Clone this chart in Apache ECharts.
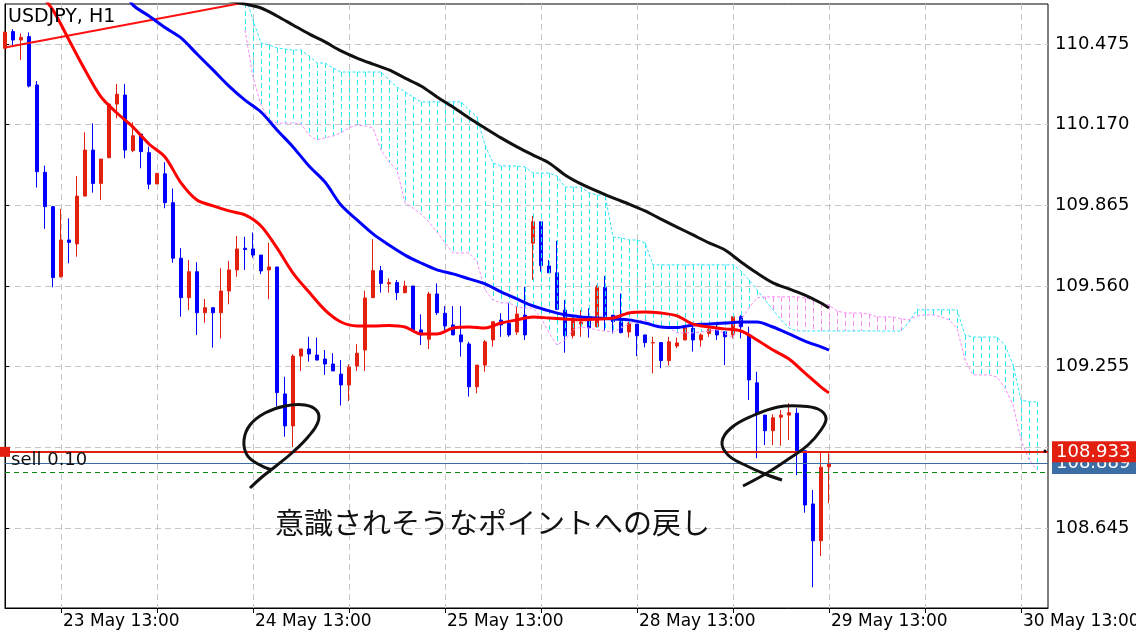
<!DOCTYPE html>
<html><head><meta charset="utf-8">
<script src="https://cdn.jsdelivr.net/npm/echarts@6/dist/echarts.min.js"></script>
<style>html,body{margin:0;padding:0;background:#fff}#c{width:1136px;height:640px}</style>
</head><body><div id="c"></div>
<script>
// ---- data (USDJPY H1, bar index 0 = 23 May 06:00) ----
const openP = [110.459,110.522,110.490,110.503,110.320,109.990,109.860,109.595,109.734,109.719,
109.900,110.074,109.948,110.045,110.248,110.282,110.072,110.134,110.064,109.946,
109.984,109.875,109.665,109.516,109.614,109.459,109.478,109.459,109.541,109.621,
109.703,109.700,109.677,109.621,109.632,109.152,109.031,109.295,109.322,109.299,
109.284,109.265,109.227,109.186,109.258,109.318,109.516,109.618,109.568,109.573,
109.535,109.560,109.394,109.359,109.530,109.457,109.413,109.375,109.341,109.179,
109.261,109.356,109.431,109.419,109.386,109.450,109.722,109.803,109.636,109.610,
109.469,109.372,109.416,109.431,109.406,109.555,109.450,109.425,109.386,109.416,
109.375,109.345,109.346,109.278,109.333,109.356,109.400,109.356,109.381,109.394,
109.387,109.375,109.444,109.375,109.194,109.072,109.013,109.064,109.072,109.079,
108.937,108.736,108.597,108.877];
const closeP = [110.519,110.490,110.500,110.316,109.992,109.860,109.592,109.734,109.725,109.900,
110.074,109.948,110.040,110.248,110.285,110.074,110.128,110.068,109.945,109.986,
109.875,109.665,109.516,109.614,109.459,109.478,109.459,109.541,109.621,109.700,
109.698,109.677,109.617,109.632,109.157,109.031,109.295,109.322,109.303,109.280,
109.265,109.239,109.186,109.253,109.306,109.515,109.618,109.570,109.573,109.535,
109.560,109.394,109.375,109.530,109.459,109.409,109.375,109.349,109.179,109.261,
109.349,109.425,109.413,109.375,109.454,109.375,109.803,109.637,109.610,109.472,
109.372,109.431,109.424,109.402,109.555,109.444,109.425,109.384,109.419,109.372,
109.346,109.346,109.278,109.349,109.345,109.402,109.356,109.375,109.396,109.375,
109.368,109.444,109.406,109.205,109.079,109.013,109.062,109.072,109.081,108.937,
108.732,108.597,108.875,108.890];
const highP = [110.524,110.531,110.515,110.519,110.335,110.015,109.863,109.851,109.816,109.976,
110.141,110.175,110.040,110.248,110.324,110.324,110.179,110.134,110.087,109.986,
110.028,109.929,109.703,109.658,109.650,109.511,109.478,109.627,109.655,109.749,
109.746,109.762,109.677,109.724,109.632,109.217,109.302,109.322,109.368,109.365,
109.318,109.306,109.280,109.264,109.340,109.542,109.737,109.636,109.589,109.583,
109.580,109.560,109.453,109.538,109.570,109.484,109.484,109.484,109.349,109.261,
109.356,109.425,109.457,109.495,109.484,109.557,109.825,109.803,109.658,109.731,
109.507,109.450,109.469,109.476,109.564,109.598,109.450,109.532,109.425,109.416,
109.375,109.368,109.346,109.368,109.365,109.402,109.419,109.381,109.406,109.413,
109.387,109.444,109.450,109.406,109.236,109.072,109.075,109.091,109.117,109.098,
108.937,108.789,108.934,108.928];
const lowP = [110.456,110.465,110.415,110.311,109.932,109.776,109.555,109.592,109.646,109.671,
109.900,109.913,109.885,110.045,110.194,110.043,110.066,110.005,109.926,109.946,
109.854,109.648,109.444,109.469,109.375,109.421,109.327,109.362,109.491,109.595,
109.621,109.667,109.605,109.510,109.104,108.990,108.951,109.239,109.274,109.280,
109.224,109.239,109.108,109.125,109.239,109.239,109.516,109.535,109.535,109.507,
109.532,109.387,109.337,109.322,109.450,109.391,109.375,109.293,109.142,109.154,
109.236,109.331,109.368,109.368,109.375,109.356,109.583,109.614,109.610,109.469,
109.308,109.362,109.368,109.365,109.404,109.391,109.381,109.381,109.365,109.295,
109.328,109.230,109.249,109.259,109.325,109.356,109.312,109.331,109.368,109.356,
109.261,109.362,109.362,109.129,108.909,108.959,108.959,108.956,108.978,108.845,
108.703,108.421,108.539,108.739];

// moving averages [bar index, price]
const maRed = [[4,110.679],[6,110.603],[8,110.490],[10,110.377],[12,110.275],[14,110.214],[16,110.161],[18,110.097],[20,110.048],[22,109.950],[24,109.885],[26,109.863],[28,109.844],[30,109.829],[32,109.787],[34,109.704],[36,109.609],[38,109.537],[40,109.469],[42,109.424],[44,109.409],[46,109.409],[48,109.411],[50,109.405],[52,109.379],[54,109.379],[56,109.401],[58,109.405],[60,109.401],[62,109.420],[64,109.432],[66,109.443],[68,109.439],[70,109.435],[72,109.432],[74,109.435],[76,109.439],[78,109.458],[80,109.462],[82,109.458],[84,109.447],[86,109.416],[88,109.405],[90,109.398],[92,109.390],[94,109.356],[96,109.318],[98,109.284],[100,109.231],[102,109.178],[103,109.156]];
const maBlue = [[15,110.672],[16,110.622],[18,110.581],[20,110.537],[22,110.498],[24,110.437],[26,110.377],[28,110.316],[30,110.263],[32,110.218],[34,110.150],[36,110.086],[38,110.014],[40,109.953],[42,109.866],[44,109.810],[46,109.757],[48,109.715],[50,109.677],[52,109.647],[54,109.621],[56,109.606],[58,109.587],[60,109.568],[62,109.538],[64,109.511],[66,109.485],[68,109.466],[70,109.451],[72,109.443],[74,109.439],[76,109.435],[78,109.432],[80,109.420],[82,109.405],[84,109.403],[86,109.413],[88,109.416],[90,109.420],[92,109.424],[94,109.424],[96,109.405],[98,109.379],[100,109.352],[102,109.330],[103,109.318]];
const maBlack = [[27,110.650],[28,110.638],[30,110.626],[32,110.611],[34,110.581],[36,110.547],[38,110.513],[40,110.483],[42,110.449],[44,110.422],[46,110.399],[48,110.377],[50,110.346],[52,110.316],[54,110.275],[56,110.237],[58,110.195],[60,110.157],[62,110.120],[64,110.086],[66,110.055],[68,110.025],[70,109.980],[72,109.946],[74,109.919],[76,109.893],[78,109.870],[80,109.844],[82,109.813],[84,109.783],[86,109.753],[88,109.723],[90,109.696],[92,109.651],[94,109.609],[96,109.572],[98,109.549],[100,109.526],[102,109.496],[103,109.477]];
const trendLine = [[0,110.462],[40,110.689]];

// ichimoku cloud, first value at bar index cloudStart
const cloudStart = 30;
const spanA = [110.660,110.566,110.479,110.471,110.460,110.456,110.452,110.452,110.430,110.403,
110.403,110.384,110.369,110.369,110.369,110.369,110.369,110.369,110.339,110.312,
110.294,110.275,110.256,110.256,110.256,110.256,110.256,110.256,110.226,110.199,
110.093,110.025,110.014,110.014,110.014,110.010,109.987,109.987,109.987,109.976,
109.934,109.934,109.934,109.912,109.904,109.904,109.745,109.742,109.734,109.734,
109.723,109.640,109.640,109.640,109.640,109.640,109.640,109.640,109.640,109.640,
109.640,109.640,109.617,109.583,109.545,109.507,109.470,109.432,109.401,109.390,
109.390,109.390,109.390,109.390,109.390,109.390,109.390,109.390,109.390,109.390,
109.390,109.390,109.390,109.424,109.470,109.470,109.470,109.470,109.470,109.470,
109.375,109.367,109.367,109.367,109.367,109.337,109.262,109.129,109.122,109.122];
const spanB = [110.528,110.350,110.244,110.188,110.176,110.176,110.176,110.173,110.131,110.112,
110.120,110.127,110.139,110.158,110.169,110.165,110.158,110.074,110.029,109.999,
109.874,109.855,109.832,109.802,109.764,109.723,109.685,109.685,109.685,109.651,
109.545,109.507,109.496,109.496,109.481,109.477,109.477,109.439,109.383,109.337,
109.356,109.394,109.405,109.401,109.394,109.390,109.386,109.401,109.417,109.428,
109.432,109.413,109.401,109.401,109.383,109.383,109.383,109.386,109.390,109.394,
109.379,109.367,109.432,109.477,109.515,109.519,109.519,109.519,109.519,109.519,
109.515,109.507,109.496,109.488,109.466,109.458,109.458,109.458,109.454,109.443,
109.443,109.443,109.436,109.432,109.447,109.451,109.451,109.443,109.432,109.401,
109.281,109.224,109.224,109.224,109.216,109.175,109.110,108.978,108.903,108.865];

// price lines
const alertPrice = 108.933;
const bidPrice = 108.889;
const sellPrice = 108.856;
const sellText = 'sell 0.10';

// axes
const xTickIdx = [7,19,31,43,55,67,79,91,103,115,127];
const xLabelIdx = [7,31,55,79,103,127];
const xLabels = ['23 May 13:00','24 May 13:00','25 May 13:00','28 May 13:00','29 May 13:00','30 May 13:00'];
const yTickVals = [108.645,108.950,109.255,109.560,109.865,110.170,110.475];
const yLabelVals = [108.645,109.255,109.560,109.865,110.170,110.475];
const titleText = 'USDJPY, H1';
const noteText = '意識されそうなポイントへの戻し';

// ---- build ----
const Y_MIN = 108.3427, Y_MAX = 110.6262;
const RED = '#e3200f', BLUE = '#0000ff', CYAN = '#2ee6f6', PINK = '#f78cf7';
const FONT = 'DejaVu Sans';
const HALF = 0.5 / 8; // half a pixel in bar units -> crisp 1px verticals

const candles = openP.map((o, i) => [i, o, closeP[i], lowP[i], highP[i]]);
const spanAData = spanA.map((a, k) => [cloudStart + k, a]);
const spanBData = spanB.map((b, k) => [cloudStart + k, b]);
// cloud hatching as broken vertical segments of a line series
const hatchUp = [], hatchDown = [];
spanA.forEach((a, k) => {
  const b = spanB[k], x = cloudStart + k + HALF;
  const target = a >= b ? hatchUp : hatchDown;
  target.push([x, Math.max(a, b)], [x, Math.min(a, b)], [x, '-']);
});

const chart = echarts.init(document.getElementById('c'), null, {renderer: 'canvas'});
chart.setOption({
  animation: false,
  backgroundColor: '#fff',
  grid: {left: 5, top: 4, width: 1043, height: 604, show: true, borderColor: '#000', borderWidth: 1,
    backgroundColor: '#fff', containLabel: false, outerBoundsMode: 'none'},
  xAxis: {
    type: 'value', min: 0, max: 130.375,
    axisLine: {show: true, onZero: false, lineStyle: {color: '#000', width: 1}},
    axisTick: {show: true, customValues: xTickIdx, length: 5, lineStyle: {color: '#000'}},
    axisLabel: {customValues: xLabelIdx, formatter: v => xLabels[xLabelIdx.indexOf(Math.round(v))] || '',
      align: 'left', color: '#000', fontSize: 17, fontFamily: FONT, margin: 5, padding: [0,0,0,2], hideOverlap: false},
    splitLine: {show: true, lineStyle: {color: '#c6c6c6', type: [6,4], width: 1}}
  },
  yAxis: {
    type: 'value', position: 'right', min: Y_MIN, max: Y_MAX, scale: true,
    axisLine: {show: true, lineStyle: {color: '#000', width: 1}},
    axisTick: {show: true, customValues: yTickVals, length: 4, lineStyle: {color: '#000'}},
    axisLabel: {customValues: yLabelVals, formatter: v => v.toFixed(3), color: '#000', fontSize: 18, fontFamily: FONT, margin: 7},
    splitLine: {show: true, lineStyle: {color: '#c6c6c6', type: [6,4], width: 1}}
  },
  series: [
    {
      type: 'candlestick', data: candles, barWidth: 4, clip: true, z: 2,
      itemStyle: {color: RED, color0: BLUE, borderColor: RED, borderColor0: BLUE, borderWidth: 1},
      markLine: {
        silent: true, symbol: ['none', 'none'], animation: false, precision: 3, z: 6,
        data: [
          {yAxis: sellPrice, lineStyle: {color: '#0a8a0a', type: [5,4], width: 1},
            label: {show: true, position: 'insideStartTop', formatter: sellText, color: '#111', fontSize: 18, fontFamily: FONT, distance: [6, 3]}},
          {yAxis: bidPrice, lineStyle: {color: '#3a6ea5', type: 'solid', width: 1},
            label: {show: true, position: 'end', formatter: bidPrice.toFixed(3), color: '#fff', backgroundColor: '#3a6ea5', padding: [2,6,1,4], fontSize: 18, fontFamily: FONT, distance: 4}},
          {yAxis: alertPrice, symbol: ['circle', 'circle'], symbolSize: 10, lineStyle: {color: RED, type: 'solid', width: 2},
            label: {show: true, position: 'end', formatter: alertPrice.toFixed(3), color: '#fff', backgroundColor: RED, padding: [2,6,1,4], fontSize: 18, fontFamily: FONT, distance: 4}}
        ]
      }
    },
    {type: 'line', data: hatchUp, symbol: 'none', z: 3, clip: true, connectNulls: false, silent: true,
      lineStyle: {color: CYAN, width: 1, type: [5,3]}},
    {type: 'line', data: hatchDown, symbol: 'none', z: 3, clip: true, connectNulls: false, silent: true,
      lineStyle: {color: PINK, width: 1, type: [5,3]}},
    {type: 'line', data: spanAData, symbol: 'none', z: 3, clip: true, lineStyle: {color: CYAN, width: 1, type: [3,2]}},
    {type: 'line', data: spanBData, symbol: 'none', z: 3, clip: true, lineStyle: {color: PINK, width: 1, type: [3,2]}},
    {type: 'line', data: trendLine, symbol: 'none', z: 4, clip: true, lineStyle: {color: '#ff1010', width: 2}},
    {type: 'line', data: maBlack, symbol: 'none', z: 4, clip: true, smooth: 0.3, lineStyle: {color: '#111', width: 3}},
    {type: 'line', data: maBlue, symbol: 'none', z: 4, clip: true, smooth: 0.3, lineStyle: {color: '#0000ff', width: 3}},
    {type: 'line', data: maRed, symbol: 'none', z: 4, clip: true, smooth: 0.3, lineStyle: {color: '#ff0000', width: 3}}
  ],
  graphic: [
    {type: 'text', left: 8, top: 8, z: 10, style: {text: titleText, fontSize: 19, fontFamily: FONT, fill: '#000'}},
    {type: 'text', left: 275, top: 508, z: 10, style: {text: noteText, fontSize: 29, fontFamily: 'Noto Sans CJK JP', fill: '#111'}},
    {type: 'polyline', z: 10, shape: {smooth: 0.4, points: [[250,488],[262,477],[276,466],[293,452],[308,437],[318,422],[317,411],[305,405],[285,406],[265,413],[250,425],[244,440],[247,455],[258,464],[272,470]]},
      style: {stroke: '#111', lineWidth: 3, fill: null}},
    {type: 'polyline', z: 10, shape: {smooth: 0.4, points: [[743,486],[767,473],[790,458],[808,445],[821,430],[826,418],[818,409],[800,406],[778,407],[752,416],[731,428],[722,442],[728,455],[745,465],[765,474],[782,480]]},
      style: {stroke: '#111', lineWidth: 3, fill: null}},
    {type: 'circle', z: 20, shape: {cx: 1045, cy: 451, r: 1.5}, style: {fill: '#000'}}
  ]
});
</script></body></html>
